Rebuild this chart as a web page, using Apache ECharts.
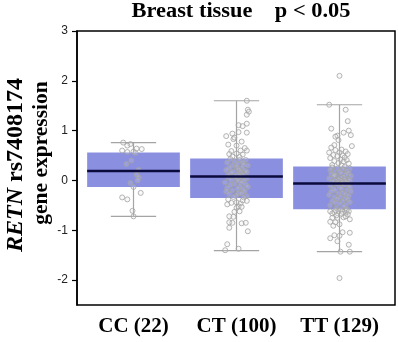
<!DOCTYPE html>
<html>
<head>
<meta charset="utf-8">
<script src="https://cdn.jsdelivr.net/npm/echarts@6/dist/echarts.min.js"></script>
<style>
  html, body { margin: 0; padding: 0; background: #fff; }
  #main { width: 398px; height: 342px; }
</style>
</head>
<body>
<div id="main"></div>
<script>
// genotype groups
var categories = ['CC (22)', 'CT (100)', 'TT (129)'];
var yTicks = [-2, -1, 0, 1, 2, 3];

// box stats: [min, Q1, median, Q3, max]
var boxStats = [
    [-0.72, -0.13, 0.19, 0.56, 0.76],
    [-1.41, -0.35, 0.08, 0.44, 1.60],
    [-1.43, -0.58, -0.06, 0.28, 1.52]
];

// individual samples, value + horizontal jitter (category units)
var ccValues = [0.76, 0.73, 0.60, 0.57, 0.58, 0.63, 0.55, 0.70, 0.64, 0.33, 0.40, 0.21, 0.12, 0.06, 0.00, -0.05, -0.13,
    -0.25, -0.34, -0.38, -0.61, -0.72];
var ccJitter = [-0.10, -0.03, -0.11, -0.06, 0.00, 0.08, 0.02, -0.06, 0.03, -0.07, -0.02, 0.05, 0.03, 0.05, 0.04, -0.03, 0.00,
    0.07, -0.11, -0.06, -0.01, 0.00];

var ctValues = [1.60, 1.42, 1.38, 1.32, 1.14, 1.11, 1.09, 0.94, 0.97, 0.96, 0.89, 0.83, 0.86, 0.72, 0.70, 0.59, 0.60, 0.60,
    0.53, 0.54, 0.52, 0.78, 0.65, 0.48, 0.47,
    0.43, 0.41, 0.41, 0.38, 0.36, 0.36, 0.33, 0.31, 0.30, 0.30, 0.27, 0.25, 0.25, 0.22, 0.21, 0.20, 0.18, 0.17, 0.17, 0.15,
    0.13, 0.12, 0.11, 0.10, 0.09,
    0.07, 0.06, 0.04, 0.03, 0.01, 0.00, -0.01, -0.04, -0.05, -0.07, -0.08, -0.09, -0.12, -0.13, -0.15, -0.17, -0.17, -0.20,
    -0.22, -0.22, -0.25, -0.26, -0.27, -0.30, -0.31, -0.33, -0.34,
    -0.45, -0.44, -0.46, -0.41, -0.52, -0.55, -0.53, -0.62, -0.63, -0.72, -0.73, -0.84, -0.85, -0.86, -0.85, -0.95, -1.02,
    -1.28, -1.40, -1.37, -0.38, -0.40, -0.48];
var ctJitter = [0.10, 0.11, 0.12, 0.10, 0.10, 0.02, 0.06, -0.04, 0.02, 0.10, -0.10, -0.03, -0.02, -0.08, 0.00, -0.05, 0.04, 0.10,
    -0.07, 0.00, 0.06, 0.05, 0.08, -0.04, 0.03,
    -0.06, 0.03, 0.09, -0.02, 0.06, -0.09, 0.01, 0.07, -0.04, 0.11, 0.00, -0.07, 0.05, 0.02, -0.10, 0.08, -0.03, 0.04, 0.10, -0.05,
    0.01, 0.06, -0.08, 0.03, -0.01,
    0.04, -0.08, 0.10, 0.00, -0.05, 0.07, 0.02, -0.11, 0.05, -0.02, 0.09, -0.06, 0.03, 0.11, -0.09, 0.01, 0.06, -0.04,
    0.08, -0.10, 0.02, 0.05, -0.07, 0.00, 0.10, -0.03, 0.07,
    -0.05, 0.00, 0.04, 0.10, 0.02, 0.00, 0.05, 0.03, -0.02, -0.07, -0.03, -0.07, -0.04, 0.05, 0.09, -0.07, 0.11,
    -0.09, -0.11, 0.02, -0.08, 0.06, -0.09];

var ttValues = [2.10, 1.52, 1.42, 1.19, 1.04, 1.00, 0.96, 0.91, 0.90, 0.88, 0.81, 0.71, 0.69,
    0.66, 0.62, 0.61, 0.58, 0.56, 0.56, 0.53, 0.51, 0.50, 0.49, 0.46, 0.45, 0.42, 0.41, 0.39, 0.38, 0.35, 0.34, 0.31, 0.30,
    0.27, 0.26, 0.24, 0.24, 0.22, 0.21, 0.19, 0.18, 0.17, 0.15, 0.14, 0.13, 0.12, 0.10, 0.09, 0.08, 0.07, 0.05, 0.04, 0.03,
    0.02, 0.01, 0.00, 0.00, -0.01, -0.02, -0.03, -0.04, -0.04, -0.05, 0.11,
    -0.06,
    -0.07, -0.09, -0.10, -0.10, -0.13, -0.14, -0.16, -0.17, -0.19, -0.20, -0.22, -0.22, -0.25, -0.26, -0.28, -0.29, -0.31,
    -0.33, -0.33, -0.36, -0.37, -0.38, -0.41, -0.42, -0.44, -0.45, -0.47, -0.49, -0.50, -0.53, -0.55, -0.57,
    -0.62, -0.64, -0.61, -0.63, -0.65, -0.60, -0.75, -0.75, -0.74, -0.83, -0.84, -0.91, -1.04, -1.05, -1.10, -1.11, -1.16,
    -1.22, -1.29, -1.43, -1.43, -1.96,
    -0.59, -0.60, -0.62, -0.66, -0.67, -0.68, -0.70, -0.72, -0.78, -0.88];
var ttJitter = [0.00, -0.10, 0.06, 0.08, -0.08, 0.09, 0.04, 0.11, -0.02, -0.04, -0.01, -0.05, 0.12,
    -0.08, 0.02, -0.04, 0.06, -0.10, 0.00, 0.08, -0.06, 0.03, -0.02, 0.05, -0.09, 0.01, 0.07, -0.05, 0.04, -0.01, 0.09, -0.07, 0.02,
    0.05, -0.07, 0.10, -0.02, 0.03, -0.09, 0.07, 0.00, -0.05, 0.09, 0.02, -0.08, 0.06, -0.03, 0.11, -0.06, 0.04, 0.01, -0.10, 0.08,
    -0.01, 0.05, -0.04, 0.10, 0.02, -0.07, 0.06, -0.02, 0.03, 0.08, -0.05,
    0.02,
    -0.03, 0.08, -0.09, 0.04, 0.00, 0.10, -0.06, 0.02, 0.07, -0.04, 0.11, -0.08, 0.03, -0.01, 0.06, -0.10, 0.09,
    0.01, -0.05, 0.05, -0.02, 0.08, -0.07, 0.03, 0.10, -0.04, 0.00, 0.06, -0.09, 0.04, -0.03, 0.07,
    -0.09, -0.05, -0.01, 0.03, 0.06, 0.07, -0.07, -0.02, 0.04, -0.09, -0.04, -0.06, 0.03, 0.10, -0.05, 0.00, -0.09,
    -0.02, 0.09, 0.01, 0.10, 0.00,
    0.01, -0.04, 0.09, -0.07, 0.02, 0.08, -0.03, 0.06, 0.10, 0.00];

var groups = [[ccValues, ccJitter], [ctValues, ctJitter], [ttValues, ttJitter]];

var pointData = [];
groups.forEach(function (g, i) {
    for (var k = 0; k < g[0].length; k++) {
        pointData.push([i + g[1][k], g[0][k]]);
    }
});

var boxData = boxStats.map(function (s, i) {
    return [i].concat(s);
});

var serif = '"Liberation Serif", "Times New Roman", serif';

function renderBox(params, api) {
    var idx = api.value(0);
    var band = api.size([1, 0])[0];
    var boxW = band * 0.9;
    var capW = band * 0.44;
    var lo = api.coord([idx, api.value(1)]);
    var q1 = api.coord([idx, api.value(2)]);
    var q3 = api.coord([idx, api.value(4)]);
    var hi = api.coord([idx, api.value(5)]);
    var x = lo[0];
    var wStyle = { stroke: '#a4a4a4', lineWidth: 1.2 };
    return {
        type: 'group',
        children: [
            { type: 'rect', shape: { x: x - boxW / 2, y: q3[1], width: boxW, height: q1[1] - q3[1] }, style: { fill: '#8a8fe0' } },
            { type: 'line', shape: { x1: x, y1: hi[1], x2: x, y2: q3[1] }, style: wStyle },
            { type: 'line', shape: { x1: x, y1: q1[1], x2: x, y2: lo[1] }, style: wStyle },
            { type: 'line', shape: { x1: x - capW / 2, y1: hi[1], x2: x + capW / 2, y2: hi[1] }, style: wStyle },
            { type: 'line', shape: { x1: x - capW / 2, y1: lo[1], x2: x + capW / 2, y2: lo[1] }, style: wStyle }
        ]
    };
}

function renderMedian(params, api) {
    var idx = api.value(0);
    var band = api.size([1, 0])[0];
    var boxW = band * 0.9;
    var m = api.coord([idx, api.value(3)]);
    return {
        type: 'line',
        shape: { x1: m[0] - boxW / 2, y1: m[1], x2: m[0] + boxW / 2, y2: m[1] },
        style: { stroke: '#0a0a3c', lineWidth: 2.5 }
    };
}

var chart = echarts.init(document.getElementById('main'));

var option = {
    animation: false,
    grid: [
        { left: 77, right: 3, top: 31, bottom: 37, show: true, borderColor: '#000', borderWidth: 1.5 },
        { left: 82, right: 7, top: 31, bottom: 37 }
    ],
    xAxis: [
        { type: 'value', gridIndex: 0, show: false, min: 0, max: 1 },
        {
            type: 'category', gridIndex: 1, data: categories,
            axisLine: { show: false },
            axisTick: { show: true, alignWithLabel: true, length: 6, lineStyle: { color: '#000', width: 1.5 } },
            axisLabel: { interval: 0, hideOverlap: false, color: '#000', fontFamily: serif, fontWeight: 'bold', fontSize: 21, margin: 11 }
        },
        { type: 'value', gridIndex: 1, show: false, min: -0.5, max: 2.5 }
    ],
    yAxis: [
        {
            type: 'value', gridIndex: 0, min: -2.5, max: 3,
            axisLine: { show: true, lineStyle: { color: '#000', width: 1.5 } },
            axisTick: { show: true, length: 5, customValues: yTicks, lineStyle: { color: '#000', width: 1.2 } },
            axisLabel: { customValues: yTicks, color: '#222', fontFamily: '"Liberation Sans", Arial, sans-serif', fontSize: 12, margin: 9 },
            splitLine: { show: false }
        },
        { type: 'value', gridIndex: 1, min: -2.5, max: 3, show: false }
    ],
    series: [
        {
            type: 'custom', xAxisIndex: 1, yAxisIndex: 1,
            renderItem: renderBox,
            encode: { x: 0, y: [1, 2, 3, 4, 5] },
            data: boxData, silent: true, z: 1
        },
        {
            type: 'scatter', xAxisIndex: 2, yAxisIndex: 1,
            symbol: 'circle', symbolSize: 5,
            itemStyle: { color: 'rgba(225,225,230,0.25)', borderColor: '#a2a2a2', borderWidth: 1 },
            data: pointData, z: 2
        },
        {
            type: 'custom', xAxisIndex: 1, yAxisIndex: 1,
            renderItem: renderMedian,
            encode: { x: 0, y: 3 },
            data: boxData, silent: true, z: 3
        }
    ],
    graphic: [
        {
            type: 'text', x: 241, y: 12, scaleX: 1.12,
            style: { text: 'Breast tissue    p < 0.05', font: 'bold 20px ' + serif, fill: '#000', textAlign: 'center', textVerticalAlign: 'middle' }
        },
        {
            type: 'text', x: 16, y: 165, rotation: Math.PI / 2,
            style: {
                text: '{i|RETN} rs7408174',
                font: 'bold 24px ' + serif, fill: '#000', textAlign: 'center', textVerticalAlign: 'middle',
                rich: { i: { fontStyle: 'italic', fontWeight: 'bold', fontSize: 24, fontFamily: serif } }
            }
        },
        {
            type: 'text', x: 41, y: 153, rotation: Math.PI / 2,
            style: { text: 'gene expression', font: 'bold 21.5px ' + serif, fill: '#000', textAlign: 'center', textVerticalAlign: 'middle' }
        }
    ]
};

chart.setOption(option);
window.addEventListener('resize', function () {
    chart.resize();
});
</script>
</body>
</html>
